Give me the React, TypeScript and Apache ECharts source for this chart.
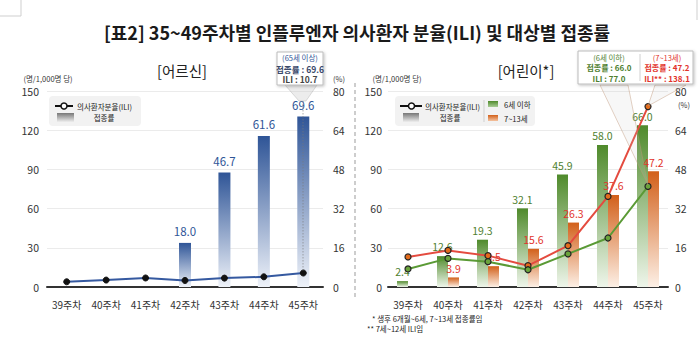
import React, { useEffect, useRef } from "react";
import * as echarts from "echarts";

const weeks = ["39주차", "40주차", "41주차", "42주차", "43주차", "44주차", "45주차"];
const seniorVacc = [null, null, null, 18.0, 46.7, 61.6, 69.6];
const seniorILI = [4.0, 5.3, 6.9, 5.0, 6.8, 7.8, 10.7];
const childVacc6 = [2.4, 12.6, 19.3, 32.1, 45.9, 58.0, 66.0];
const childVacc713 = [null, 3.9, 8.5, 15.6, 26.3, 37.6, 47.2];
const childILI6 = [13.8, 21.9, 19.4, 13.2, 25.3, 37.5, 77.0];
const childILI712 = [23.0, 28.0, 24.0, 16.3, 31.6, 69.3, 138.1];

const FONT = '"Noto Sans CJK KR", "Noto Sans", sans-serif';

const grad = (top: string, bottom: string) =>
  new echarts.graphic.LinearGradient(0, 0, 0, 1, [
    { offset: 0, color: top },
    { offset: 1, color: bottom },
  ]);

const txt = (
  text: string,
  x: number,
  y: number,
  size: number,
  fill: string,
  align: string = "center",
  weight: string = "normal"
) => ({
  type: "text",
  silent: true,
  z: 100,
  style: {
    text,
    x,
    y,
    fill,
    fontSize: size,
    fontWeight: weight,
    fontFamily: FONT,
    align,
    verticalAlign: "middle",
  },
});

export default function App() {
  const ref = useRef<HTMLDivElement>(null);
  useEffect(() => {
    if (!ref.current) return;
    const chart = echarts.init(ref.current, null, { renderer: "svg" });
    const fmt = (p: any) => (p.value == null ? "" : Number(p.value).toFixed(1));
    const axisLbl = { color: "#333", fontSize: 10.5, fontFamily: FONT };
    const blue = "#2f5597";
    const green = "#4f7f30";
    const red = "#e2332b";

    const yLeft = (gi: number, margin: number) => ({
      type: "value",
      gridIndex: gi,
      min: 0,
      max: 150,
      interval: 30,
      position: "left",
      axisLine: { show: false },
      axisTick: { show: false },
      axisLabel: { ...axisLbl, margin },
      splitLine: { lineStyle: { color: "#ebebeb" } },
    });
    const yRight = (gi: number, margin: number) => ({
      type: "value",
      gridIndex: gi,
      min: 0,
      max: 80,
      interval: 16,
      position: "right",
      axisLine: { show: false },
      axisTick: { show: false },
      axisLabel: { ...axisLbl, margin },
      splitLine: { show: false },
    });
    const xAxis = (gi: number) => ({
      type: "category",
      gridIndex: gi,
      data: weeks,
      axisLine: { lineStyle: { color: "#333", width: 2 } },
      axisTick: { show: false },
      axisLabel: { ...axisLbl, fontSize: 10, margin: 12, interval: 0 },
    });

    const option: any = {
      animation: false,
      backgroundColor: "#fff",
      grid: [
        { left: 47, right: 377, top: 91, bottom: 64 },
        { left: 388, right: 32, top: 91, bottom: 64 },
      ],
      xAxis: [xAxis(0), xAxis(1)],
      yAxis: [yLeft(0, 8), yRight(0, 10), yLeft(1, 6), yRight(1, 7)],
      series: [
        {
          name: "접종률(어르신)",
          type: "bar",
          xAxisIndex: 0,
          yAxisIndex: 1,
          data: seniorVacc,
          barWidth: 12,
          itemStyle: { color: grad(blue, "#eef2f9") },
          label: {
            show: true,
            position: "top",
            distance: 6,
            color: blue,
            fontSize: 11.5,
            fontFamily: FONT,
            formatter: fmt,
          },
          z: 2,
        },
        {
          name: "의사환자분율(ILI) 어르신",
          type: "line",
          xAxisIndex: 0,
          yAxisIndex: 0,
          data: seniorILI,
          symbol: "circle",
          symbolSize: 6,
          lineStyle: { color: "#3559a0", width: 2 },
          itemStyle: { color: "#111", borderColor: "#111" },
          z: 5,
        },
        {
          name: "6세 이하",
          type: "bar",
          xAxisIndex: 1,
          yAxisIndex: 3,
          data: childVacc6,
          barWidth: 11,
          barGap: "0%",
          itemStyle: { color: grad("#4f8a2b", "#eef5ea") },
          label: {
            show: true,
            position: "top",
            distance: 4,
            color: green,
            fontSize: 10.5,
            fontFamily: FONT,
            formatter: fmt,
          },
          z: 2,
        },
        {
          name: "7~13세",
          type: "bar",
          xAxisIndex: 1,
          yAxisIndex: 3,
          data: childVacc713,
          barWidth: 11,
          barGap: "0%",
          itemStyle: { color: grad("#d2601a", "#fdf0e6") },
          label: {
            show: true,
            position: "top",
            distance: 4,
            color: red,
            fontSize: 10.5,
            fontFamily: FONT,
            formatter: fmt,
          },
          z: 2,
        },
        {
          name: "ILI 7~12세",
          type: "line",
          xAxisIndex: 1,
          yAxisIndex: 2,
          data: childILI712,
          symbol: "circle",
          symbolSize: 6,
          lineStyle: { color: "#e44b3f", width: 2 },
          itemStyle: { color: "#e46c1c", borderColor: "#222", borderWidth: 1.2 },
          z: 5,
        },
        {
          name: "ILI 6세 이하",
          type: "line",
          xAxisIndex: 1,
          yAxisIndex: 2,
          data: childILI6,
          symbol: "circle",
          symbolSize: 6,
          lineStyle: { color: "#5a9a35", width: 2 },
          itemStyle: { color: "#6aa43c", borderColor: "#222", borderWidth: 1.2 },
          z: 5,
        },
      ],
      graphic: [
        // corner marks
        { type: "line", silent: true, shape: { x1: 0, y1: 16, x2: 21, y2: 16 }, style: { stroke: "#cfcfcf", lineWidth: 1 } },
        { type: "line", silent: true, shape: { x1: 21, y1: 0, x2: 21, y2: 16 }, style: { stroke: "#cfcfcf", lineWidth: 1 } },
        { type: "line", silent: true, shape: { x1: 697, y1: 0, x2: 697, y2: 20 }, style: { stroke: "#cfcfcf", lineWidth: 1 } },
        // main title
        txt("[표2] 35~49주차별 인플루엔자 의사환자 분율(ILI) 및 대상별 접종률", 357, 32, 18, "#1a1a1a", "center", "bold"),
        // sub titles
        txt("[어르신]", 182, 70, 14.5, "#222"),
        txt("[어린이*]", 526, 70, 14.5, "#222"),
        // axis names
        txt("(명/1,000명 당)", 48, 78, 7.5, "#333"),
        txt("(%)", 339, 78, 7.5, "#333"),
        txt("(명/1,000명 당)", 397, 78.5, 7.5, "#333"),
        txt("(%)", 684, 104, 7.5, "#333"),
        // separator
        { type: "line", silent: true, shape: { x1: 355, y1: 83, x2: 355, y2: 300 }, style: { stroke: "#bdbdbd", lineWidth: 1.5, lineDash: [4, 3] } },
        // left legend
        { type: "rect", silent: true, z: 50, shape: { x: 49, y: 96, width: 92, height: 30, r: 4 }, style: { fill: "#f2f2f2" } },
        { type: "line", silent: true, z: 51, shape: { x1: 55, y1: 106, x2: 73, y2: 106 }, style: { stroke: "#111", lineWidth: 2 } },
        { type: "circle", silent: true, z: 52, shape: { cx: 64, cy: 106, r: 3 }, style: { fill: "#fff", stroke: "#111", lineWidth: 1.5 } },
        txt("의사환자분율(ILI)", 77, 106, 7.5, "#222", "left"),
        { type: "rect", silent: true, z: 51, shape: { x: 57, y: 113, width: 17, height: 9 }, style: { fill: grad("#777", "#eee") } },
        txt("접종률", 104, 117.5, 7.5, "#222"),
        // right legend
        { type: "rect", silent: true, z: 50, shape: { x: 395, y: 96, width: 140, height: 30, r: 4 }, style: { fill: "#f2f2f2" } },
        { type: "line", silent: true, z: 51, shape: { x1: 400, y1: 106, x2: 422, y2: 106 }, style: { stroke: "#111", lineWidth: 2 } },
        { type: "circle", silent: true, z: 52, shape: { cx: 411.5, cy: 106, r: 3 }, style: { fill: "#fff", stroke: "#111", lineWidth: 1.5 } },
        txt("의사환자분율(ILI)", 425, 106, 7.5, "#222", "left"),
        { type: "rect", silent: true, z: 51, shape: { x: 403, y: 113, width: 16, height: 9 }, style: { fill: grad("#777", "#eee") } },
        txt("접종률", 450, 117.5, 7.5, "#222"),
        { type: "line", silent: true, z: 51, shape: { x1: 484, y1: 100, x2: 484, y2: 122 }, style: { stroke: "#cfcfcf", lineWidth: 1 } },
        { type: "rect", silent: true, z: 51, shape: { x: 488, y: 101, width: 10, height: 6 }, style: { fill: grad("#4f8a2b", "#a9cc95") } },
        txt("6세 이하", 504, 104.5, 7.5, "#222", "left"),
        { type: "rect", silent: true, z: 51, shape: { x: 488, y: 115, width: 10, height: 6 }, style: { fill: grad("#d2601a", "#f4c3a0") } },
        txt("7~13세", 504, 118.5, 7.5, "#222", "left"),
        // left callout
        { type: "polygon", silent: true, z: 40, shape: { points: [[285, 85], [317, 85], [306, 101], [299, 101]] }, style: { fill: "rgba(200,200,200,0.35)", stroke: "rgba(170,170,170,0.5)", lineWidth: 0.8 } },
        { type: "line", silent: true, z: 40, shape: { x1: 303, y1: 101, x2: 303, y2: 271 }, style: { stroke: "rgba(120,120,120,0.6)", lineWidth: 1, lineDash: [1.5, 1.5] } },
        { type: "rect", silent: true, z: 60, shape: { x: 277, y: 52, width: 46, height: 33 }, style: { fill: "#fff", stroke: "#bcbcbc", lineWidth: 1, shadowBlur: 3, shadowColor: "rgba(0,0,0,0.25)", shadowOffsetX: 1, shadowOffsetY: 1 } },
        txt("(65세 이상)", 300, 57.5, 7.5, blue),
        txt("접종률 : 69.6", 300, 68.5, 8.5, "#3b4a6b", "center", "bold"),
        txt("ILI : 10.7", 300, 79, 8.5, "#444", "center", "bold"),
        // right callouts
        { type: "polygon", silent: true, z: 40, shape: { points: [[600, 85], [628, 85], [648, 185]] }, style: { fill: "rgba(200,200,200,0.15)", stroke: "rgba(190,150,120,0.55)", lineWidth: 0.8 } },
        { type: "polygon", silent: true, z: 40, shape: { points: [[655, 85], [686, 85], [648, 106]] }, style: { fill: "rgba(200,200,200,0.15)", stroke: "rgba(190,150,120,0.55)", lineWidth: 0.8 } },
        { type: "rect", silent: true, z: 60, shape: { x: 578, y: 51, width: 115, height: 33 }, style: { fill: "#fff", stroke: "#bcbcbc", lineWidth: 1, shadowBlur: 3, shadowColor: "rgba(0,0,0,0.25)", shadowOffsetX: 1, shadowOffsetY: 1 } },
        { type: "line", silent: true, z: 61, shape: { x1: 640, y1: 54, x2: 640, y2: 81 }, style: { stroke: "#d0d0d0", lineWidth: 1 } },
        txt("(6세 이하)", 609, 57, 7.5, green),
        txt("접종률 : 66.0", 609, 67.5, 8, green, "center", "bold"),
        txt("ILI : 77.0", 609, 78, 8, green, "center", "bold"),
        txt("(7~13세)", 667, 57, 7.5, red),
        txt("접종률 : 47.2", 667, 67.5, 8, red, "center", "bold"),
        txt("ILI** : 138.1", 667, 78, 8, red, "center", "bold"),
        // footnotes
        txt("* 생후 6개월~6세, 7~13세 접종률임", 372, 318, 7.5, "#222", "left"),
        txt("** 7세~12세 ILI임", 367, 328.5, 7.5, "#222", "left"),
      ],
    };
    chart.setOption(option);
    return () => chart.dispose();
  }, []);
  return (
    <div
      ref={ref}
      style={{ position: "fixed", left: 0, top: 0, width: 700, height: 351, background: "#fff" }}
    />
  );
}
